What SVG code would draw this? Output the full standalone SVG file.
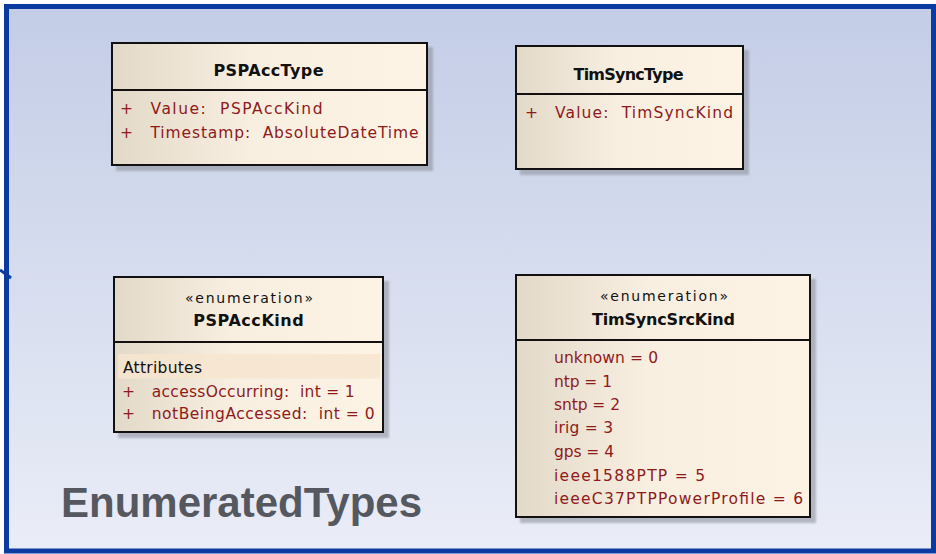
<svg xmlns="http://www.w3.org/2000/svg" width="936" height="554" viewBox="0 0 936 554">
<defs>
<linearGradient id="bg" x1="0" y1="0" x2="0" y2="1">
<stop offset="0" stop-color="#c3cde6"/>
<stop offset="1" stop-color="#eaedf7"/>
</linearGradient>
<linearGradient id="box" x1="0" y1="0" x2="1" y2="0">
<stop offset="0" stop-color="#e3d9c8"/>
<stop offset="0.45" stop-color="#f8efe1"/>
<stop offset="1" stop-color="#fdf3e5"/>
</linearGradient>
<filter id="blur" x="-10%" y="-10%" width="120%" height="120%"><feGaussianBlur stdDeviation="1.2"/></filter>
</defs>
<style>
.shadow{fill:#8f949e;opacity:0.6;filter:url(#blur)}
.box{fill:url(#box);stroke:#111;stroke-width:2}
.div{stroke:#111;stroke-width:2}
.title{font-family:"DejaVu Sans",sans-serif;font-weight:bold;font-size:16px;fill:#111;text-anchor:middle}
.stereo{font-family:"DejaVu Sans",sans-serif;font-size:14px;fill:#111;text-anchor:middle}
.attr{font-family:"DejaVu Sans",sans-serif;font-size:15.5px;fill:#8e1a1a}
.lbl{font-family:"DejaVu Sans",sans-serif;font-size:15.5px;fill:#111}
.pkg{font-family:"Liberation Sans",Arial,sans-serif;font-weight:bold;font-size:42px;fill:#55595f}
</style>
<rect x="0" y="0" width="936" height="554" fill="#ffffff"/>
<rect x="6.5" y="6.5" width="927" height="544.5" fill="url(#bg)" stroke="#0b3aa0" stroke-width="5"/>
<g id="connectors">
<path d="M0 270 L11 278" fill="none" stroke="#0b3aa0" stroke-width="3"/>
</g>
<g id="PSPAccType">
<rect class="shadow" x="116" y="47" width="317" height="124"/>
<rect class="box" x="112" y="43" width="315" height="122"/>
<line class="div" x1="112" y1="90" x2="427" y2="90"/>
<text class="title" x="268.5" y="76" textLength="110" lengthAdjust="spacing">PSPAccType</text>
<text class="attr" x="120" y="114">+</text>
<text class="attr" x="150.5" y="114" xml:space="preserve" textLength="172" lengthAdjust="spacing">Value:  PSPAccKind</text>
<text class="attr" x="120" y="138">+</text>
<text class="attr" x="150.5" y="138" xml:space="preserve" textLength="268" lengthAdjust="spacing">Timestamp:  AbsoluteDateTime</text>
</g>
<g id="TimSyncType">
<rect class="shadow" x="520" y="50" width="229" height="125"/>
<rect class="box" x="516" y="46" width="227" height="123"/>
<line class="div" x1="516" y1="94" x2="743" y2="94"/>
<text class="title" x="628.5" y="79.5" textLength="110" lengthAdjust="spacing">TimSyncType</text>
<text class="attr" x="525" y="118">+</text>
<text class="attr" x="555" y="118" xml:space="preserve" textLength="178" lengthAdjust="spacing">Value:  TimSyncKind</text>
</g>
<g id="PSPAccKind">
<rect class="shadow" x="118" y="281" width="271" height="157"/>
<rect class="box" x="114" y="277" width="269" height="155"/>
<line class="div" x1="114" y1="342" x2="383" y2="342"/>
<text class="stereo" x="249" y="302.7" textLength="128" lengthAdjust="spacing">«enumeration»</text>
<text class="title" x="248.5" y="326" textLength="110.5" lengthAdjust="spacing">PSPAccKind</text>
<rect x="118" y="354" width="262" height="24.5" fill="#f7e5cf" opacity="0.85"/>
<text class="lbl" x="123" y="372.7" textLength="79" lengthAdjust="spacing">Attributes</text>
<text class="attr" x="122" y="396.7">+</text>
<text class="attr" x="151.7" y="396.7" xml:space="preserve" textLength="203" lengthAdjust="spacing">accessOccurring:  int = 1</text>
<text class="attr" x="122" y="419.3">+</text>
<text class="attr" x="151.7" y="419.3" xml:space="preserve" textLength="223" lengthAdjust="spacing">notBeingAccessed:  int = 0</text>
</g>
<g id="TimSyncSrcKind">
<rect class="shadow" x="520" y="279" width="296" height="244"/>
<rect class="box" x="516" y="275" width="294" height="242"/>
<line class="div" x1="516" y1="340" x2="810" y2="340"/>
<text class="stereo" x="664" y="300.7" textLength="128" lengthAdjust="spacing">«enumeration»</text>
<text class="title" x="663.5" y="325" textLength="143" lengthAdjust="spacing">TimSyncSrcKind</text>
<text class="attr" x="554" y="363.3" textLength="104" lengthAdjust="spacing">unknown = 0</text>
<text class="attr" x="554" y="386.7" textLength="58" lengthAdjust="spacing">ntp = 1</text>
<text class="attr" x="554" y="410" textLength="66" lengthAdjust="spacing">sntp = 2</text>
<text class="attr" x="554" y="433.3" textLength="59" lengthAdjust="spacing">irig = 3</text>
<text class="attr" x="554" y="456.7" textLength="60" lengthAdjust="spacing">gps = 4</text>
<text class="attr" x="554" y="480.7" textLength="151" lengthAdjust="spacing">ieee1588PTP = 5</text>
<text class="attr" x="554" y="504.3" textLength="249" lengthAdjust="spacing">ieeeC37PTPPowerProfile = 6</text>
</g>
<g id="EnumeratedTypes">
<text class="pkg" x="61" y="516.7">EnumeratedTypes</text>
</g>
</svg>
